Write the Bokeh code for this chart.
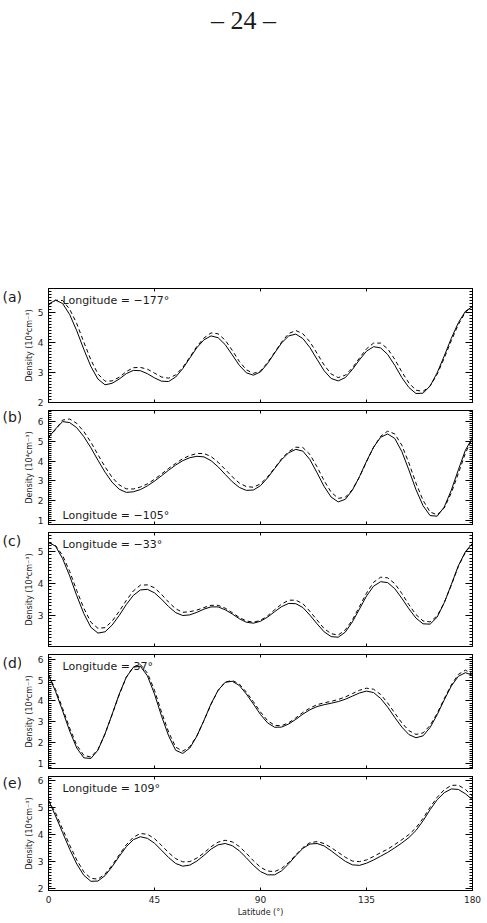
from bokeh.plotting import figure
from bokeh.models import (Range1d, LinearAxis, SingleIntervalTicker, FixedTicker,
                          Label, CustomJSTickFormatter)
from bokeh.layouts import column, row
from bokeh.embed import file_html
from bokeh.resources import INLINE

# ---------------- data ----------------
latitude = list(range(0, 181, 3))
x_ticks = [0, 45, 90, 135, 180]
panel_letters = ["(a)", "(b)", "(c)", "(d)", "(e)"]
longitudes = ["−177", "−105", "−33", "37", "109"]
y_limits = [(2.0, 5.8), (0.8, 6.55), (2.03, 5.6), (0.77, 6.22), (1.94, 6.16)]

a_solid = [5.28, 5.41, 5.30, 4.93, 4.39, 3.77, 3.20, 2.78, 2.59, 2.64, 2.78, 2.96, 3.07, 3.06, 2.96, 2.82,
           2.71, 2.70, 2.85, 3.13, 3.48, 3.83, 4.09, 4.22, 4.16, 3.93, 3.59, 3.24, 2.99, 2.91, 3.02, 3.30,
           3.65, 3.99, 4.22, 4.28, 4.13, 3.83, 3.44, 3.06, 2.80, 2.72, 2.83, 3.10, 3.42, 3.71, 3.86, 3.82,
           3.60, 3.24, 2.83, 2.50, 2.30, 2.31, 2.55, 2.99, 3.55, 4.14, 4.66, 5.04, 5.20]
a_dashed = [5.25, 5.41, 5.40, 5.11, 4.63, 4.01, 3.42, 2.95, 2.71, 2.72, 2.84, 3.03, 3.16, 3.17, 3.11, 2.98,
            2.85, 2.81, 2.92, 3.17, 3.51, 3.87, 4.15, 4.32, 4.29, 4.08, 3.74, 3.37, 3.09, 2.97, 3.05, 3.33,
            3.67, 4.02, 4.30, 4.40, 4.29, 4.02, 3.64, 3.25, 2.95, 2.83, 2.91, 3.15, 3.48, 3.79, 3.98, 3.98,
            3.79, 3.44, 3.02, 2.65, 2.41, 2.37, 2.55, 2.94, 3.48, 4.06, 4.60, 5.01, 5.22]

b_solid = [5.20, 5.62, 5.99, 5.94, 5.68, 5.23, 4.67, 4.04, 3.44, 2.93, 2.58, 2.42, 2.45, 2.56, 2.75, 2.99,
           3.26, 3.54, 3.80, 4.02, 4.17, 4.24, 4.21, 4.02, 3.71, 3.33, 2.96, 2.67, 2.52, 2.54, 2.76, 3.15,
           3.62, 4.08, 4.42, 4.59, 4.50, 4.07, 3.41, 2.72, 2.18, 1.94, 2.07, 2.53, 3.21, 3.99, 4.70, 5.20,
           5.37, 5.14, 4.48, 3.55, 2.56, 1.75, 1.25, 1.22, 1.68, 2.53, 3.56, 4.55, 5.18]
b_dashed = [5.18, 5.59, 6.07, 6.12, 5.90, 5.49, 4.95, 4.32, 3.71, 3.18, 2.80, 2.60, 2.59, 2.69, 2.85, 3.08,
            3.35, 3.63, 3.88, 4.12, 4.28, 4.38, 4.38, 4.23, 3.94, 3.58, 3.21, 2.89, 2.71, 2.68, 2.85, 3.20,
            3.65, 4.12, 4.48, 4.70, 4.68, 4.33, 3.71, 3.01, 2.43, 2.12, 2.17, 2.56, 3.19, 3.96, 4.69, 5.25,
            5.51, 5.37, 4.80, 3.90, 2.89, 2.02, 1.43, 1.29, 1.63, 2.39, 3.38, 4.40, 5.16]

c_solid = [5.30, 5.17, 4.78, 4.24, 3.62, 3.06, 2.63, 2.45, 2.49, 2.70, 3.00, 3.34, 3.63, 3.80, 3.82, 3.71,
           3.51, 3.28, 3.09, 3.00, 3.02, 3.10, 3.20, 3.27, 3.27, 3.18, 3.05, 2.90, 2.79, 2.76, 2.82, 2.95,
           3.12, 3.28, 3.38, 3.37, 3.25, 3.01, 2.74, 2.49, 2.34, 2.32, 2.48, 2.80, 3.20, 3.61, 3.92, 4.06,
           4.03, 3.84, 3.54, 3.21, 2.92, 2.74, 2.73, 2.95, 3.40, 3.97, 4.56, 5.00, 5.26]
c_dashed = [5.28, 5.19, 4.88, 4.38, 3.78, 3.23, 2.79, 2.60, 2.62, 2.82, 3.13, 3.47, 3.77, 3.95, 3.96, 3.87,
            3.66, 3.42, 3.21, 3.10, 3.12, 3.17, 3.25, 3.32, 3.32, 3.23, 3.09, 2.94, 2.83, 2.79, 2.85, 2.99,
            3.18, 3.36, 3.48, 3.48, 3.37, 3.13, 2.86, 2.59, 2.43, 2.39, 2.55, 2.86, 3.28, 3.70, 4.04, 4.20,
            4.18, 4.00, 3.69, 3.34, 3.03, 2.83, 2.80, 2.99, 3.40, 3.95, 4.54, 4.98, 5.26]

d_solid = [5.23, 4.45, 3.52, 2.56, 1.75, 1.28, 1.25, 1.65, 2.43, 3.36, 4.32, 5.13, 5.61, 5.66, 5.20, 4.33,
           3.27, 2.33, 1.64, 1.49, 1.75, 2.32, 3.07, 3.86, 4.51, 4.89, 4.94, 4.74, 4.33, 3.85, 3.35, 2.95,
           2.74, 2.75, 2.90, 3.12, 3.37, 3.58, 3.73, 3.82, 3.89, 3.97, 4.08, 4.23, 4.38, 4.47, 4.40, 4.12,
           3.70, 3.21, 2.75, 2.39, 2.24, 2.33, 2.73, 3.34, 4.05, 4.71, 5.18, 5.35, 5.23]
d_dashed = [5.23, 4.55, 3.64, 2.70, 1.88, 1.40, 1.32, 1.68, 2.42, 3.34, 4.29, 5.12, 5.63, 5.74, 5.33, 4.51,
            3.46, 2.51, 1.79, 1.60, 1.81, 2.34, 3.06, 3.84, 4.50, 4.90, 4.98, 4.81, 4.42, 3.96, 3.47, 3.06,
            2.83, 2.82, 2.96, 3.19, 3.45, 3.66, 3.82, 3.91, 3.98, 4.07, 4.19, 4.35, 4.51, 4.61, 4.56, 4.31,
            3.90, 3.42, 2.95, 2.58, 2.40, 2.47, 2.83, 3.41, 4.11, 4.77, 5.27, 5.47, 5.30]

e_solid = [5.28, 4.70, 4.08, 3.47, 2.92, 2.50, 2.28, 2.29, 2.49, 2.82, 3.20, 3.56, 3.82, 3.93, 3.87, 3.69,
           3.43, 3.16, 2.94, 2.84, 2.88, 3.03, 3.24, 3.47, 3.63, 3.68, 3.60, 3.41, 3.15, 2.87, 2.64, 2.52,
           2.52, 2.67, 2.93, 3.23, 3.50, 3.66, 3.68, 3.59, 3.41, 3.21, 3.02, 2.89, 2.87, 2.95, 3.07, 3.21,
           3.35, 3.52, 3.70, 3.90, 4.16, 4.52, 4.93, 5.30, 5.56, 5.70, 5.68, 5.52, 5.30]
e_dashed = [5.28, 4.81, 4.21, 3.62, 3.07, 2.63, 2.39, 2.36, 2.55, 2.87, 3.26, 3.63, 3.91, 4.05, 4.02, 3.86,
            3.61, 3.34, 3.12, 3.00, 3.01, 3.14, 3.33, 3.56, 3.73, 3.80, 3.74, 3.57, 3.32, 3.04, 2.80, 2.66,
            2.64, 2.76, 2.98, 3.26, 3.53, 3.71, 3.75, 3.68, 3.53, 3.35, 3.17, 3.03, 3.01, 3.07, 3.20, 3.34,
            3.47, 3.64, 3.82, 4.01, 4.26, 4.61, 5.02, 5.39, 5.67, 5.83, 5.84, 5.68, 5.43]

solid_series = [a_solid, b_solid, c_solid, d_solid, e_solid]
dashed_series = [a_dashed, b_dashed, c_dashed, d_dashed, e_dashed]

# ---------------- layout ----------------
TOTAL_W = 487
LETTER_W = 21
PANEL_W = TOTAL_W - LETTER_W
FRAME_H = 114
FONT = "DejaVu Sans"
INK = "#1a1a1a"
borders = [(4, 6), (2, 4), (4, 4), (4, 4), (4, 30)]   # (top, bottom) per panel

header = figure(width=TOTAL_W, height=284, x_range=Range1d(0, TOTAL_W), y_range=Range1d(0, 284),
                x_axis_type=None, y_axis_type=None, output_backend="svg",
                toolbar_location=None, min_border=0)
header.grid.visible = False
header.outline_line_color = None
header.add_layout(Label(x=243, y=264, text="– 24 –", text_align="center",
                        text_baseline="middle", text_font="Liberation Serif",
                        text_font_size="26px", text_color=INK))

blank = CustomJSTickFormatter(code="return ''")


def y_axis(labelled):
    ax = LinearAxis(ticker=SingleIntervalTicker(interval=1, num_minor_ticks=10))
    ax.major_tick_in = 7
    ax.major_tick_out = 0
    ax.minor_tick_in = 3
    ax.minor_tick_out = 0
    ax.axis_line_color = "black"
    ax.major_tick_line_color = "black"
    ax.minor_tick_line_color = "black"
    if labelled:
        ax.major_label_text_font = FONT
        ax.major_label_text_font_size = "9px"
        ax.major_label_text_color = INK
        ax.major_label_standoff = 5
        ax.axis_label = "Density (10⁴cm⁻³)"
        ax.axis_label_text_font = FONT
        ax.axis_label_text_font_size = "8px"
        ax.axis_label_text_font_style = "normal"
        ax.axis_label_text_color = INK
        ax.axis_label_standoff = 1
    else:
        ax.formatter = blank
        ax.major_label_text_font_size = "0px"
        ax.major_label_standoff = 0
    return ax


def x_axis(labelled):
    ax = LinearAxis(ticker=FixedTicker(ticks=x_ticks, minor_ticks=[]))
    ax.major_tick_in = 3
    ax.major_tick_out = 0
    ax.minor_tick_line_color = None
    ax.axis_line_color = "black"
    ax.major_tick_line_color = "black"
    if labelled:
        ax.major_label_text_font = FONT
        ax.major_label_text_font_size = "9px"
        ax.major_label_text_color = INK
        ax.major_label_standoff = 5
        ax.axis_label = "Latitude (°)"
        ax.axis_label_text_font = FONT
        ax.axis_label_text_font_size = "8px"
        ax.axis_label_text_font_style = "normal"
        ax.axis_label_text_color = INK
        ax.axis_label_standoff = 2
    else:
        ax.formatter = blank
        ax.major_label_text_font_size = "0px"
        ax.major_label_standoff = 0
    return ax


rows = [header]
for i in range(5):
    last = i == 4
    lo, hi = y_limits[i]
    top, bottom = borders[i]
    h = top + FRAME_H + bottom

    # narrow strip carrying the panel letter, left of the axis
    strip = figure(width=LETTER_W, height=h, x_range=Range1d(0, LETTER_W), y_range=Range1d(0, h),
                   x_axis_type=None, y_axis_type=None, output_backend="svg",
                   toolbar_location=None, min_border=0)
    strip.grid.visible = False
    strip.outline_line_color = None
    strip.add_layout(Label(x=2, y=h - top - 5, text=panel_letters[i], text_baseline="middle",
                           text_align="left", text_font=FONT, text_font_size="14px",
                           text_color=INK))

    p = figure(width=PANEL_W, height=h,
               x_range=Range1d(0, 180), y_range=Range1d(lo, hi),
               x_axis_type=None, y_axis_type=None,
               output_backend="svg", toolbar_location=None,
               min_border_left=26, min_border_right=15,
               min_border_top=top, min_border_bottom=bottom)
    p.grid.visible = False
    p.outline_line_color = "black"
    p.outline_line_width = 1
    p.background_fill_color = "white"
    p.border_fill_color = "white"

    p.add_layout(y_axis(True), "left")
    p.add_layout(y_axis(False), "right")
    p.add_layout(x_axis(last), "below")
    p.add_layout(x_axis(False), "above")

    p.line(latitude, dashed_series[i], line_color="black", line_width=1, line_dash="4 3")
    p.line(latitude, solid_series[i], line_color="black", line_width=1)

    ly = 9 if i == 1 else FRAME_H - 12
    p.add_layout(Label(x=14, y=ly, x_units="screen", y_units="screen",
                       text=f"Longitude = {longitudes[i]}°", text_baseline="middle",
                       text_align="left", text_font=FONT, text_font_size="11px",
                       text_color=INK))
    rows.append(row(strip, p, spacing=0))

layout = column(*rows, spacing=0)
open("out.html", "w").write(file_html(layout, INLINE))
